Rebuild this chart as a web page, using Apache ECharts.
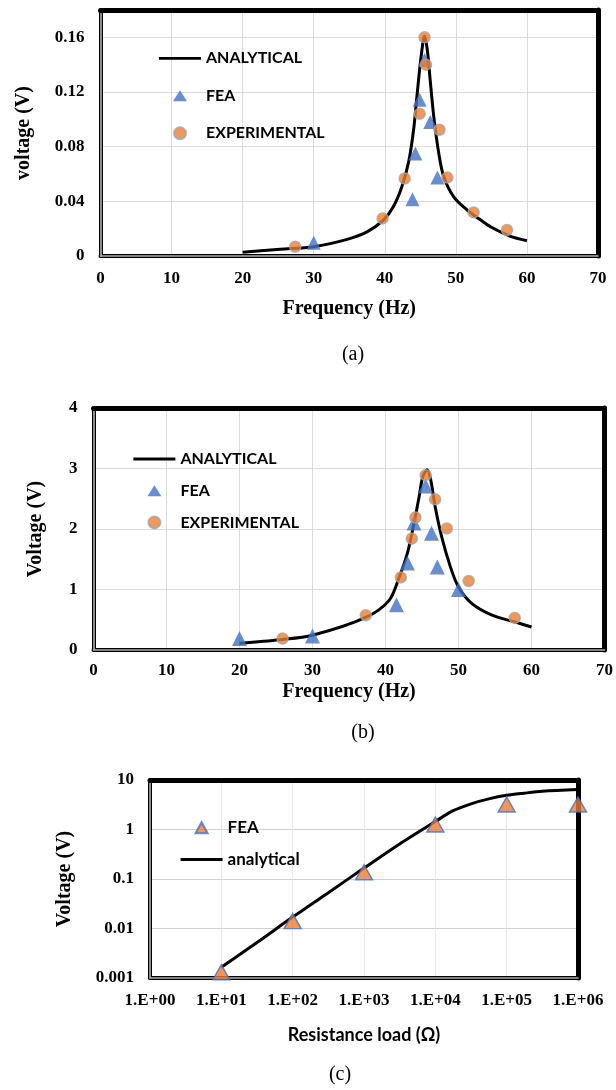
<!DOCTYPE html>
<html>
<head>
<meta charset="utf-8">
<script src="https://cdn.jsdelivr.net/npm/echarts@6/dist/echarts.min.js"></script>
<style>
html,body{margin:0;padding:0;background:#fff;}
#chart{width:616px;height:1090px;}
</style>
</head>
<body>
<div id="chart"></div>
<script>
// ---------- Panel (a) data ----------
const freqAnaA = [20, 25.3, 30, 34.7, 37.5, 39.8, 41.2, 42.4, 43.4, 44.1, 44.6, 45.1, 45.6, 46.0, 46.4, 46.9, 47.6, 48.3, 49.7, 51.6, 53.5, 55, 57.6, 60];
const voltAnaA = [0.0027, 0.0049, 0.0068, 0.0122, 0.0177, 0.0263, 0.036, 0.0506, 0.070, 0.0944, 0.121, 0.1455, 0.161, 0.150, 0.128, 0.1016, 0.075, 0.058, 0.0433, 0.0336, 0.0263, 0.021, 0.0146, 0.0112];
const freqFeaA = [30.0, 43.9, 44.3, 44.9, 45.6, 46.4, 47.4];
const voltFeaA = [0.0097, 0.0416, 0.075, 0.1143, 0.1435, 0.098, 0.0574];
const freqExpA = [27.4, 39.7, 42.8, 44.9, 45.6, 45.8, 47.7, 48.8, 52.5, 57.2];
const voltExpA = [0.0068, 0.0275, 0.0567, 0.104, 0.160, 0.140, 0.0924, 0.0574, 0.0319, 0.019];
const yTicksA = ['0', '0.04', '0.08', '0.12', '0.16'];
const xTicksAB = ['0', '10', '20', '30', '40', '50', '60', '70'];

// ---------- Panel (b) data ----------
const freqAnaB = [20, 25.5, 30, 37.3, 40.5, 41.9, 43.0, 43.9, 44.6, 45.1, 45.7, 46.2, 46.8, 47.7, 48.9, 50, 51.8, 54.6, 57.8, 60];
const voltAnaB = [0.11, 0.17, 0.245, 0.54, 0.82, 1.21, 1.6, 2.09, 2.53, 2.86, 2.98, 2.81, 2.37, 1.87, 1.37, 1.04, 0.77, 0.575, 0.46, 0.38];
const freqFeaB = [20, 30, 41.5, 43.0, 43.9, 45.5, 46.3, 47.1, 50.0];
const voltFeaB = [0.19, 0.23, 0.75, 1.44, 2.10, 2.71, 1.93, 1.37, 1.0];
const freqExpB = [25.9, 37.3, 42.1, 43.6, 44.1, 45.5, 46.8, 48.4, 51.4, 57.7];
const voltExpB = [0.19, 0.575, 1.20, 1.84, 2.19, 2.89, 2.49, 2.01, 1.14, 0.53];
const yTicksB = ['0', '1', '2', '3', '4'];

// ---------- Panel (c) data ----------
const resFeaC = [10, 100, 1000, 10000, 100000, 1000000];
const voltFeaC = [0.0013, 0.0141, 0.137, 1.26, 3.2, 3.2];
const resAnaC = [10, 31.6, 100, 316, 1000, 3162, 10000, 17783, 31623, 56234, 100000, 173780, 316228, 1000000];
const voltAnaC = [0.00165, 0.0052, 0.017, 0.053, 0.166, 0.51, 1.45, 2.4, 3.3, 4.15, 4.9, 5.4, 5.9, 6.4];
const xTicksC = ['1.E+00', '1.E+01', '1.E+02', '1.E+03', '1.E+04', '1.E+05', '1.E+06'];
const yTicksC = ['0.001', '0.01', '0.1', '1', '10'];

// ---------- Names ----------
const namesAB = ['ANALYTICAL', 'FEA', 'EXPERIMENTAL'];
const namesC = ['FEA ', 'analytical'];
const captions = ['(a)', '(b)', '(c)'];

const pair = (xs, ys) => xs.map((x, i) => [x, ys[i]]);

const SERIF = 'Liberation Serif';
const SANS = 'Lato';
const BLUE = '#4472C4';
const ORANGE = '#ED7D31';
const GRIDC = '#d9d9d9';

const tickFont = {fontFamily: SERIF, fontWeight: 'bold', fontSize: 17, color: '#000'};
const nameFont = {fontFamily: SERIF, fontWeight: 'bold', fontSize: 20, color: '#000'};

function frameAxes(grid, kind, mainCfg) {
  const main = Object.assign({
    gridIndex: grid,
    axisLine: {show: true, onZero: false, lineStyle: {color: '#000', width: 4}},
    axisTick: {show: false},
    splitLine: {show: true, lineStyle: {color: GRIDC, width: 1}},
    z: 1
  }, mainCfg);
  const overlay = {
    gridIndex: grid, type: main.type, min: main.min, max: main.max,
    position: main.position,
    axisLine: {show: true, onZero: false, lineStyle: {color: '#b0b0b0', width: 1.6}},
    axisTick: {show: false}, axisLabel: {show: false}, splitLine: {show: false},
    z: 3
  };
  if (main.logBase) overlay.logBase = main.logBase;
  const opp = {
    gridIndex: grid, type: 'value', min: 0, max: 1,
    position: kind === 'x' ? 'top' : 'right',
    axisLine: {show: true, onZero: false, lineStyle: {color: '#000', width: 5}},
    axisTick: {show: false}, axisLabel: {show: false}, splitLine: {show: false},
    z: 3
  };
  return [main, overlay, opp];
}

const xAxes = [].concat(
  frameAxes(0, 'x', {type: 'value', position: 'bottom', min: 0, max: 70, interval: 10,
    axisLabel: Object.assign({margin: 14, formatter: v => xTicksAB[Math.round(v / 10)]}, tickFont),
    name: 'Frequency (Hz)', nameLocation: 'middle', nameGap: 43, nameTextStyle: nameFont}),
  frameAxes(1, 'x', {type: 'value', position: 'bottom', min: 0, max: 70, interval: 10,
    axisLabel: Object.assign({margin: 12, formatter: v => xTicksAB[Math.round(v / 10)]}, tickFont),
    name: 'Frequency (Hz)', nameLocation: 'middle', nameGap: 32, nameTextStyle: nameFont}),
  frameAxes(2, 'x', {type: 'log', logBase: 10, position: 'bottom', min: 1, max: 1000000,
    axisLabel: Object.assign({margin: 14, formatter: v => xTicksC[Math.round(Math.log10(v))]}, tickFont),
    splitLine: {show: true, lineStyle: {color: '#e6e6e6', width: 1}},
    name: 'Resistance load (Ω)', nameLocation: 'middle', nameGap: 48,
    nameTextStyle: {fontFamily: SANS, fontWeight: 'bold', fontSize: 18, color: '#000'}})
);

const yAxes = [].concat(
  frameAxes(0, 'y', {type: 'value', position: 'left', min: 0, max: 0.18, interval: 0.04,
    axisLabel: Object.assign({margin: 16, showMaxLabel: false, formatter: v => yTicksA[Math.round(v / 0.04)] || ''}, tickFont),
    name: 'voltage (V)', nameLocation: 'middle', nameGap: 67, nameTextStyle: nameFont}),
  frameAxes(1, 'y', {type: 'value', position: 'left', min: 0, max: 4, interval: 1,
    axisLabel: Object.assign({margin: 16, formatter: v => yTicksB[Math.round(v)]}, tickFont),
    name: 'Voltage (V)', nameLocation: 'middle', nameGap: 48, nameTextStyle: nameFont}),
  frameAxes(2, 'y', {type: 'log', logBase: 10, position: 'left', min: 0.001, max: 10,
    axisLabel: Object.assign({margin: 16, formatter: v => yTicksC[Math.round(Math.log10(v)) + 3]}, tickFont),
    splitLine: {show: true, lineStyle: {color: '#cfcfcf', width: 1.2}},
    name: 'Voltage (V)', nameLocation: 'middle', nameGap: 75, nameTextStyle: nameFont})
);

function lineSeries(name, p, data) {
  return {name: name, type: 'line', xAxisIndex: 3 * p, yAxisIndex: 3 * p, data: data,
    symbol: 'none', smooth: 0.3,
    lineStyle: {color: '#000', width: 3}, itemStyle: {color: '#000'}, z: 4};
}
function triSeries(name, p, data, size, style) {
  return {name: name, type: 'scatter', xAxisIndex: 3 * p, yAxisIndex: 3 * p, data: data,
    symbol: 'triangle', symbolSize: size, itemStyle: style, z: 5};
}
function circSeries(name, p, data) {
  return {name: name, type: 'scatter', xAxisIndex: 3 * p, yAxisIndex: 3 * p, data: data,
    symbol: 'circle', symbolSize: 11,
    itemStyle: {color: ORANGE, borderColor: '#a5a5a5', borderWidth: 1.5}, z: 6};
}

const series = [
  lineSeries(namesAB[0], 0, pair(freqAnaA, voltAnaA)),
  triSeries(namesAB[1], 0, pair(freqFeaA, voltFeaA), 14, {color: BLUE}),
  circSeries(namesAB[2], 0, pair(freqExpA, voltExpA)),
  lineSeries(namesAB[0], 1, pair(freqAnaB, voltAnaB)),
  triSeries(namesAB[1], 1, pair(freqFeaB, voltFeaB), 15, {color: BLUE}),
  circSeries(namesAB[2], 1, pair(freqExpB, voltExpB)),
  lineSeries(namesC[1], 2, pair(resAnaC, voltAnaC)),
  triSeries(namesC[0], 2, pair(resFeaC, voltFeaC), [17, 15], {color: ORANGE, borderColor: BLUE, borderWidth: 1.5})
];

// legend icons padded to a 42x14 box so shapes keep their own size
const ICON_LINE = 'path://M0,0M42,14M0,5.6H42V8.4H0Z';
const ICON_TRI = 'path://M0,0M42,14M14,12.5L21,1.5L28,12.5Z';
const ICON_TRI_C = 'path://M0,0M42,14M15,13L21,2L27,13Z';
const ICON_CIRC = 'path://M0,0M42,14M27,7A6,6,0,1,1,15,7A6,6,0,1,1,27,7Z';

const legText = {fontFamily: SANS, fontWeight: 'bold', fontSize: 16, color: '#000'};
const legDataAB = [
  {name: namesAB[0], icon: ICON_LINE, itemStyle: {borderWidth: 0}},
  {name: namesAB[1], icon: ICON_TRI, itemStyle: {borderWidth: 0}},
  {name: namesAB[2], icon: ICON_CIRC}
];
const legends = [
  {left: 158, top: 50.3, padding: 0, orient: 'vertical', itemWidth: 42, itemHeight: 14, itemGap: 21.5,
    data: legDataAB, textStyle: legText, selectedMode: false},
  {left: 132.4, top: 451, padding: 0, orient: 'vertical', itemWidth: 42, itemHeight: 14, itemGap: 15.7,
    data: legDataAB, textStyle: legText, selectedMode: false},
  {left: 179.6, top: 818.7, padding: 0, orient: 'vertical', itemWidth: 42, itemHeight: 14, itemGap: 15.3,
    data: [{name: namesC[0], icon: ICON_TRI_C}, {name: namesC[1], icon: ICON_LINE, itemStyle: {borderWidth: 0}}],
    textStyle: Object.assign({}, legText, {fontSize: 17}), selectedMode: false}
];

const captionX = [353, 363, 340];
const captionY = [355, 733, 1075];
const graphics = captions.map((c, i) => ({
  type: 'text', x: captionX[i], y: captionY[i],
  style: {text: c, fontFamily: SERIF, fontSize: 20, fill: '#000', align: 'center', verticalAlign: 'middle'}
}));

const chart = echarts.init(document.getElementById('chart'), null, {renderer: 'canvas'});
chart.setOption({
  animation: false,
  backgroundColor: '#fff',
  grid: [
    {left: 100.5, top: 10, width: 497.5, height: 246},
    {left: 93.5, top: 408, width: 513, height: 242},
    {left: 150, top: 780, width: 428, height: 198}
  ],
  xAxis: xAxes,
  yAxis: yAxes,
  legend: legends,
  series: series,
  graphic: graphics
});
</script>
</body>
</html>
